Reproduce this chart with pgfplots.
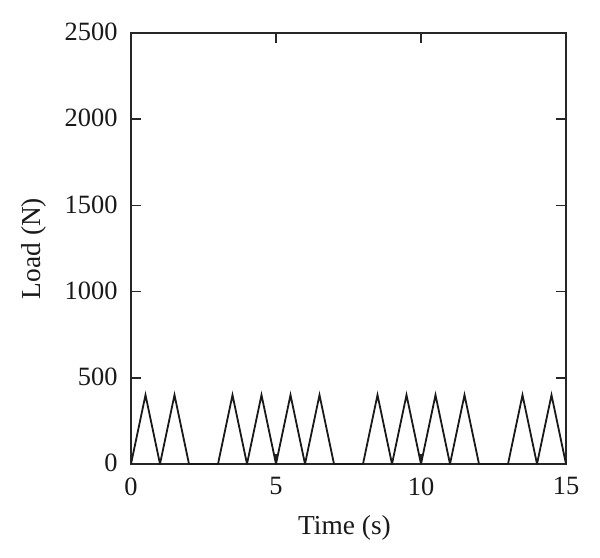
\documentclass[border=0pt]{standalone}
\usepackage{pgfplots}
\pgfplotsset{compat=1.18}
\usepackage{fontspec}
\setmainfont{Liberation Serif}
\begin{document}
\begin{tikzpicture}
\useasboundingbox (-131bp,-94bp) rectangle (469bp,464bp);
\begin{axis}[
  at={(0,0)}, anchor=south west,
  scale only axis, width=435bp, height=431bp,
  xmin=0, xmax=15, ymin=0, ymax=2500,
  xtick={0,5,10,15}, ytick={0,500,1000,1500,2000,2500},
  tick align=inside, major tick length=10bp,
  tick style={line width=1.7bp, color=black!85},
  axis line style={line width=1.7bp, color=black!85},
  /pgf/number format/assume math mode=true,
  /pgf/number format/1000 sep={},
  ticklabel style={font=\fontsize{26.5}{30}\selectfont, color=black!90},
  label style={font=\fontsize{27.5}{32}\selectfont, color=black!90},
  xlabel={Time (s)}, ylabel={Load (N)},
  xticklabel style={yshift=-10bp},
  yticklabel style={xshift=-10bp, yshift=1bp},
  xlabel style={at={(axis description cs:0.5,0)}, anchor=base, yshift=-70bp, xshift=-4bp},
  ylabel style={at={(axis description cs:0,0.5)}, anchor=base, yshift=90bp},
]
\addplot[line width=1.8bp, color=black!90, mark=none] coordinates {
(0,0) (0.5,400) (1,0) (1.5,400) (2,0) (3,0)
(3.5,400) (4,0) (4.5,400) (5,0) (5.5,400) (6,0) (6.5,400) (7,0) (8,0)
(8.5,400) (9,0) (9.5,400) (10,0) (10.5,400) (11,0) (11.5,400) (12,0) (13,0)
(13.5,400) (14,0) (14.5,400) (15,0)
};
\end{axis}
\end{tikzpicture}
\end{document}
